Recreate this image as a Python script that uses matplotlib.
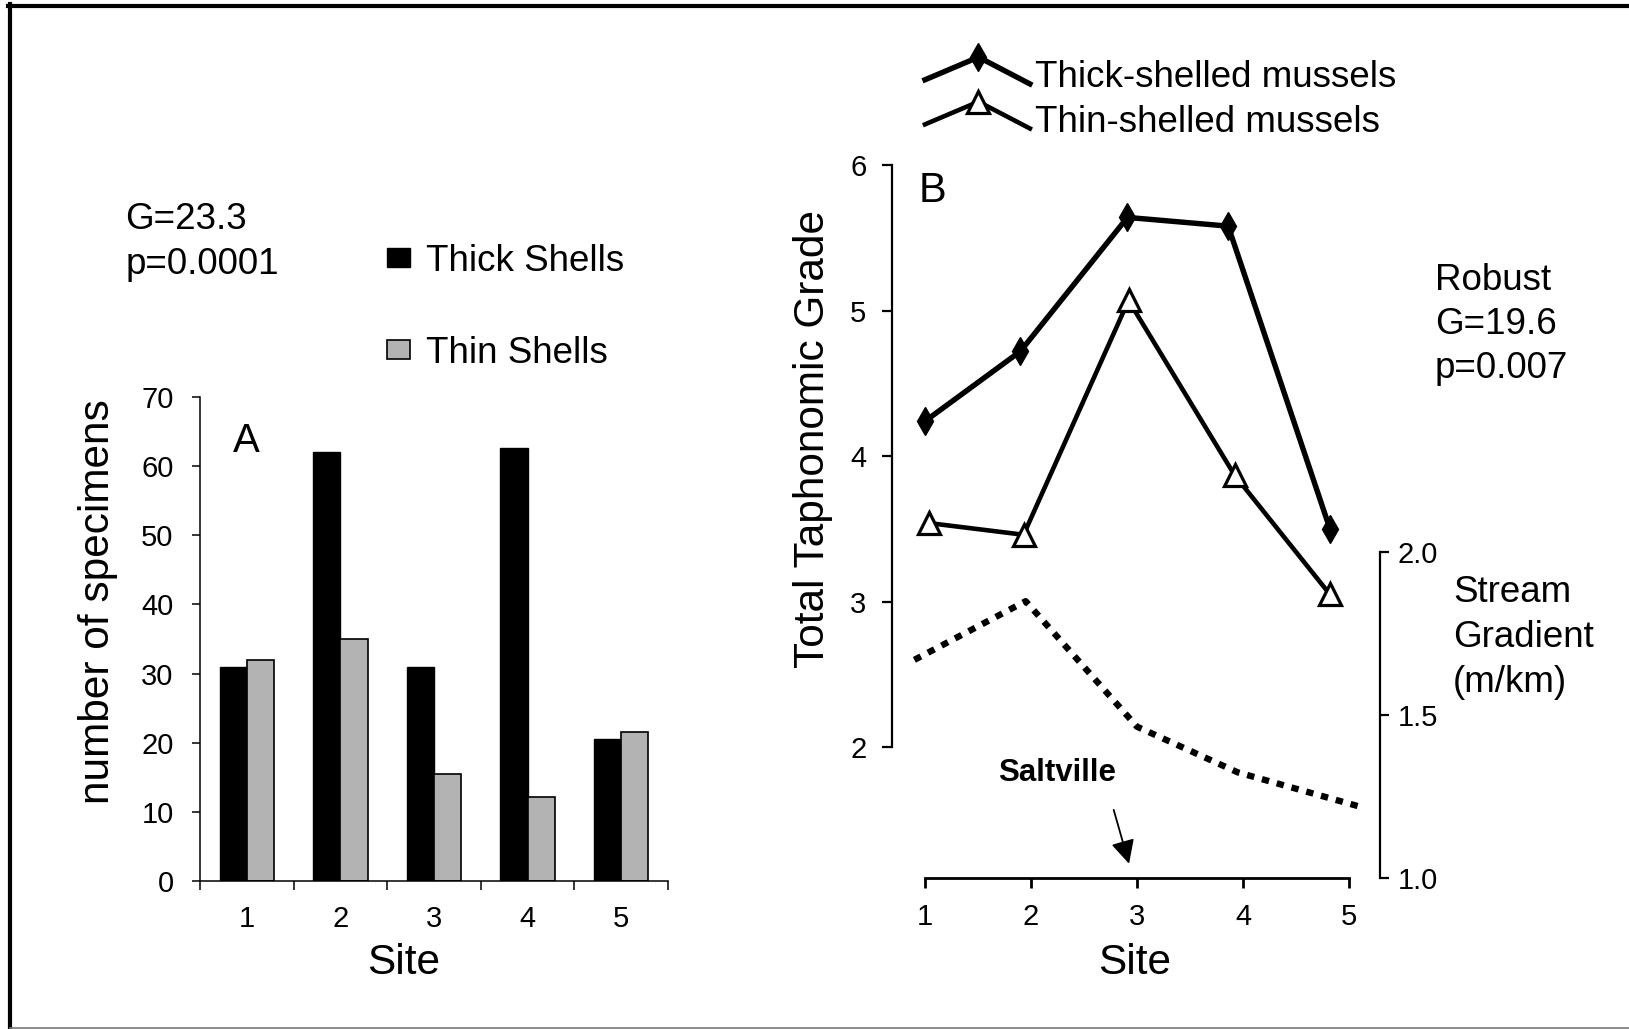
import numpy as np
import matplotlib
matplotlib.use('Agg')
import matplotlib.pyplot as plt
from matplotlib.lines import Line2D
from matplotlib.legend_handler import HandlerLine2D

plt.rcParams['font.family'] = ['Liberation Sans', 'DejaVu Sans']

# Panel A: number of specimens per site
sites = [1, 2, 3, 4, 5]
site_labels = ['1', '2', '3', '4', '5']
thick_counts = [31, 62, 31, 62.6, 20.5]
thin_counts = [32, 35, 15.5, 12.2, 21.6]

# Panel B: total taphonomic grade (markers sit a bit off the site ticks)
thick_x = [1.0, 1.9, 2.91, 3.86, 4.82]
thick_grade = [4.24, 4.72, 5.64, 5.58, 3.50]
thin_x = [1.04, 1.93, 2.92, 3.92, 4.82]
thin_grade = [3.54, 3.46, 5.07, 3.87, 3.05]

# stream gradient (m/km) on the right axis
grad_x = [0.9, 1.95, 3.0, 3.95, 5.1]
grad = [1.67, 1.85, 1.465, 1.325, 1.22]

# Saltville note: text spot, arrow tail, arrow tip (site, grade units)
salt_text = (2.245, 1.82)
salt_tail = (2.78, 1.57)
salt_tip = (2.925, 1.20)

W, H = 1629, 1029
fig = plt.figure(figsize=(W / 100, H / 100), dpi=100)


def fx(px):
    return px / W


def fy(px):
    return 1 - px / H


def text_lines(x, y0, lines, step=44.5, size=26.5):
    for i, s in enumerate(lines):
        fig.text(fx(x), fy(y0 + i * step), s, fontsize=size, va='baseline', ha='left')


class PeakHandler(HandlerLine2D):
    # legend sample drawn as a little "^" with the marker at the apex
    def create_artists(self, legend, orig_handle, xdescent, ydescent,
                       width, height, fontsize, trans):
        xs = np.array([0.0, 0.51, 1.0]) * width - xdescent
        ys = np.array([0.28, 1.16, 0.12]) * height - ydescent
        line = Line2D(xs, ys, color=orig_handle.get_color(),
                      lw=orig_handle.get_linewidth(), solid_joinstyle='miter')
        mark = Line2D(xs[1:2], ys[1:2], linestyle='none',
                      marker=orig_handle.get_marker(),
                      markersize=orig_handle.get_markersize(),
                      markerfacecolor=orig_handle.get_markerfacecolor(),
                      markeredgecolor=orig_handle.get_markeredgecolor(),
                      markeredgewidth=orig_handle.get_markeredgewidth())
        line.set_transform(trans)
        mark.set_transform(trans)
        return [line, mark]


# ---------------- Panel A ----------------
ax_a = fig.add_axes([fx(200), fy(881), (668 - 200) / W, (881 - 397) / H])
x = np.array(sites)
bw = 0.29
ax_a.bar(x - bw / 2, thick_counts, bw, color='black', edgecolor='black', lw=1, label='Thick Shells')
ax_a.bar(x + bw / 2, thin_counts, bw, color='#b3b3b3', edgecolor='black', lw=1.2, label='Thin Shells')
ax_a.set_xlim(0.5, 5.5)
ax_a.set_ylim(0, 70)
ax_a.set_yticks(range(0, 71, 10))
ax_a.set_xticks(np.arange(0.5, 5.6, 1))
ax_a.set_xticklabels([])
ax_a.set_xticks(sites, minor=True)
ax_a.set_xticklabels(site_labels, minor=True)
for s in ['top', 'right']:
    ax_a.spines[s].set_visible(False)
for s in ['left', 'bottom']:
    ax_a.spines[s].set_linewidth(1.1)
ax_a.tick_params(axis='y', length=6, width=1.1, pad=13, labelsize=21)
ax_a.tick_params(axis='x', which='major', length=6.5, width=1.1)
ax_a.tick_params(axis='x', which='minor', length=0, pad=17, labelsize=21)
ax_a.set_ylabel('number of specimens', fontsize=30.5)
ax_a.yaxis.label.set_va('center')
ax_a.yaxis.set_label_coords(-0.218, 0.577)
ax_a.set_xlabel('Site', fontsize=30.5)
ax_a.xaxis.label.set_va('center')
ax_a.xaxis.set_label_coords(0.434, -0.169)
ax_a.text(0.098, 0.887, 'A', transform=ax_a.transAxes, fontsize=29, ha='center', va='baseline')
ax_a.legend(loc='upper left', bbox_to_anchor=(fx(387), fy(244)), bbox_transform=fig.transFigure,
            frameon=False, fontsize=26.5, borderpad=0, borderaxespad=0,
            handlelength=0.62, handleheight=0.41, handletextpad=0.45, labelspacing=1.55)

# ---------------- Panel B ----------------
ax_b = fig.add_axes([fx(892), fy(878.3), (1380 - 892) / W, (878.3 - 165) / H])
ax_b.plot(thick_x, thick_grade, color='black', lw=3.9, marker='d', ms=14,
          mfc='black', mec='black', mew=1, label='Thick-shelled mussels')
ax_b.plot(thin_x, thin_grade, color='black', lw=3.3, marker='^', ms=16,
          mfc='white', mec='black', mew=2.3, label='Thin-shelled mussels')
ax_b.set_xlim(0.689, 5.292)
ax_b.set_ylim(1.10, 6.0)
ax_b.set_yticks([2, 3, 4, 5, 6])
ax_b.set_xticks(sites)
ax_b.set_xticklabels(site_labels)
for s in ['top', 'right']:
    ax_b.spines[s].set_visible(False)
ax_b.spines['left'].set_bounds(2, 6)
ax_b.spines['left'].set_linewidth(1.6)
ax_b.spines['bottom'].set_bounds(1, 5)
ax_b.spines['bottom'].set_linewidth(2)
ax_b.tick_params(axis='y', length=7, width=1.6, pad=11.5, labelsize=21)
ax_b.tick_params(axis='x', length=7, width=2, pad=11, labelsize=21)
ax_b.set_ylabel('Total Taphonomic Grade', fontsize=30.5)
ax_b.yaxis.label.set_va('center')
ax_b.yaxis.set_label_coords(-0.161, 0.616)
ax_b.set_xlabel('Site', fontsize=30.5)
ax_b.xaxis.label.set_va('center')
ax_b.xaxis.set_label_coords(0.497, -0.119)
ax_b.text(0.084, 0.9486, 'B', transform=ax_b.transAxes, fontsize=30, ha='center', va='baseline')

ax_b.text(*salt_text, 'Saltville', fontsize=22.5, fontweight='bold', ha='center', va='center')
ax_b.annotate('', xy=salt_tip, xytext=salt_tail,
              arrowprops=dict(arrowstyle='-|>,head_length=0.4,head_width=0.2', color='black',
                              lw=1.3, mutation_scale=36, shrinkA=0, shrinkB=0))

ax_b.legend(loc='upper left', bbox_to_anchor=(fx(925), fy(60)), bbox_transform=fig.transFigure,
            handler_map={Line2D: PeakHandler()}, frameon=False, fontsize=26.5,
            borderpad=0, borderaxespad=0, handlelength=2.85, handletextpad=0.13, labelspacing=0.26)

ax_g = ax_b.twinx()
ax_g.plot(grad_x, grad, color='black', lw=4.6, linestyle=(0, (1.15, 1.25)), dash_capstyle='butt')
ax_g.set_ylim(1.0, 3.188)
ax_g.set_yticks([1.0, 1.5, 2.0])
ax_g.set_yticklabels(['1.0', '1.5', '2.0'])
for s in ['top', 'left', 'bottom']:
    ax_g.spines[s].set_visible(False)
ax_g.spines['right'].set_bounds(1, 2)
ax_g.spines['right'].set_linewidth(1.6)
ax_g.tick_params(axis='y', length=6.5, width=1.6, pad=6, labelsize=21)

# free text blocks
text_lines(125.5, 229, ['G=23.3', 'p=0.0001'])
text_lines(1435, 290, ['Robust', 'G=19.6', 'p=0.007'], step=44)
text_lines(1453, 601.7, ['Stream', 'Gradient', '(m/km)'], step=45)

# figure frame: heavy left and top edge, thin grey bottom
fig.add_artist(Line2D([fx(10), fx(10)], [fy(4), 0], color='black', lw=3, transform=fig.transFigure))
fig.add_artist(Line2D([fx(8), 1], [fy(6), fy(6)], color='black', lw=3, transform=fig.transFigure))
fig.add_artist(Line2D([fx(10), 1], [fy(1028.3), fy(1028.3)], color='#777777', lw=1.2, transform=fig.transFigure))

fig.savefig('out.png', dpi=100)
